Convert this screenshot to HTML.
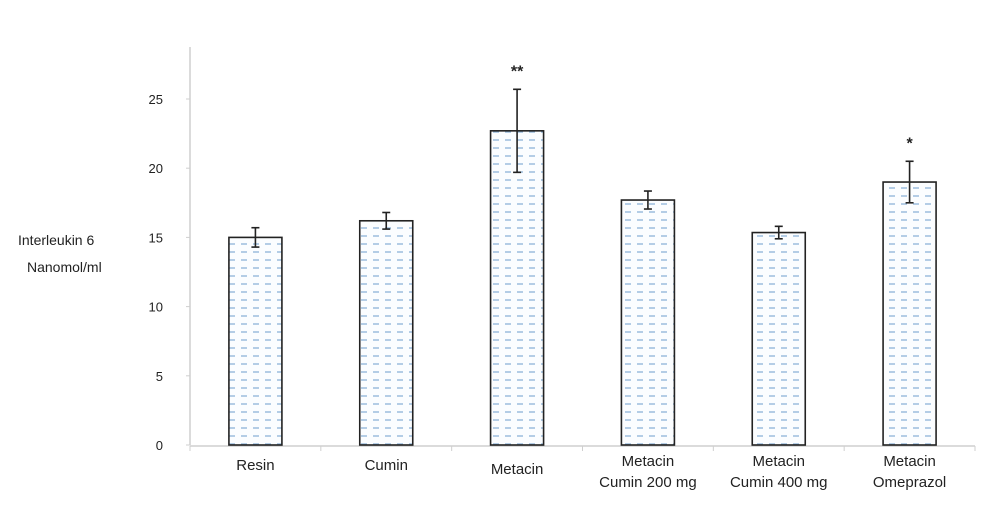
<!DOCTYPE html>
<html><head><meta charset="utf-8"><style>
body{margin:0;background:#fff;font-family:"Liberation Sans",sans-serif;}
svg text{font-family:"Liberation Sans",sans-serif;fill:#222;}
</style></head><body>
<svg width="1000" height="505" viewBox="0 0 1000 505">
<defs>
<pattern id="dash" width="12" height="8" patternUnits="userSpaceOnUse">
<rect width="12" height="8" fill="#fbfdff"/>
<line x1="1" y1="4" x2="7" y2="4" stroke="#8fb3d8" stroke-width="1.3"/>
</pattern>
</defs>
<text x="18" y="245" font-size="14">Interleukin 6</text>
<text x="27" y="272" font-size="14">Nanomol/ml</text>
<g id="axes"></g>
<g id="bars"></g>
</svg>
<script>
const categories=["Resin","Cumin","Metacin","Metacin|Cumin 200 mg","Metacin|Cumin 400 mg","Metacin|Omeprazol"];
const values=[15.0,16.2,22.7,17.7,15.35,19.0];
const errors=[0.7,0.6,3.0,0.65,0.45,1.5];
const stars=["","","**","","","*"];
const yTicks=[0,5,10,15,20,25];
const NS="http://www.w3.org/2000/svg";
const x0=190,x1=975,yBase=445,yScale=13.84;
const bw=(x1-x0)/categories.length, barW=53;
const y=v=>yBase-v*yScale;
const cx=i=>x0+(i+0.5)*bw;
function mk(t,a,p){const e=document.createElementNS(NS,t);for(const k in a)e.setAttribute(k,a[k]);p.appendChild(e);return e;}
const ax=document.getElementById('axes'),bg=document.getElementById('bars');
const yl=mk('line',{x1:x0,y1:47,x2:x0,y2:yBase,stroke:'#cfcfcf','stroke-width':1.5},ax);


yTicks.forEach(t=>{
 const tk=mk('line',{x1:x0-4,y1:y(t),x2:x0,y2:y(t),stroke:'#cfcfcf'},ax);
 
 
 const tx=mk('text',{x:163,y:y(t)+5,'font-size':13,'text-anchor':'end'},ax);
 tx.textContent=t;
 
 
});
const xl=mk('line',{x1:x0,y1:yBase+1,x2:x1,y2:yBase+1,stroke:'#cfcfcf','stroke-width':1.5},ax);


for(let i=0;i<=categories.length;i++){
 const tk=mk('line',{x1:x0+i*bw,y1:yBase+1,x2:x0+i*bw,y2:yBase+6,stroke:'#cfcfcf'},ax);
 
 
}
categories.forEach((c,i)=>{
 const r=mk('rect',{x:cx(i)-barW/2,y:y(values[i]),width:barW,height:yBase-y(values[i]),fill:'url(#dash)',stroke:'#222','stroke-width':1.6},bg);
 
 
 const hi=y(values[i]+errors[i]),lo=y(values[i]-errors[i]);
 const g=mk('g',{stroke:'#222','stroke-width':1.6},bg);
 
 
 mk('line',{x1:cx(i),y1:hi,x2:cx(i),y2:lo},g);
 mk('line',{x1:cx(i)-4,y1:hi,x2:cx(i)+4,y2:hi},g);
 mk('line',{x1:cx(i)-4,y1:lo,x2:cx(i)+4,y2:lo},g);
 if(stars[i]){
  const s=mk('text',{x:cx(i),y:hi-13,'font-size':16,'font-weight':'bold','text-anchor':'middle'},bg);
  s.textContent=stars[i];
  
  
 }
 const parts=c.split('|');
 const t=mk('text',{x:cx(i),'font-size':15,'text-anchor':'middle'},bg);
 
 
 if(parts.length===1){t.setAttribute('y',470);t.textContent=c;if(i===2)t.setAttribute('y',474);}
 else{
  const a=mk('tspan',{x:cx(i),y:466},t);a.textContent=parts[0];
  const b=mk('tspan',{x:cx(i),y:487},t);b.textContent=parts[1];
 }
});
</script>
</body></html>
